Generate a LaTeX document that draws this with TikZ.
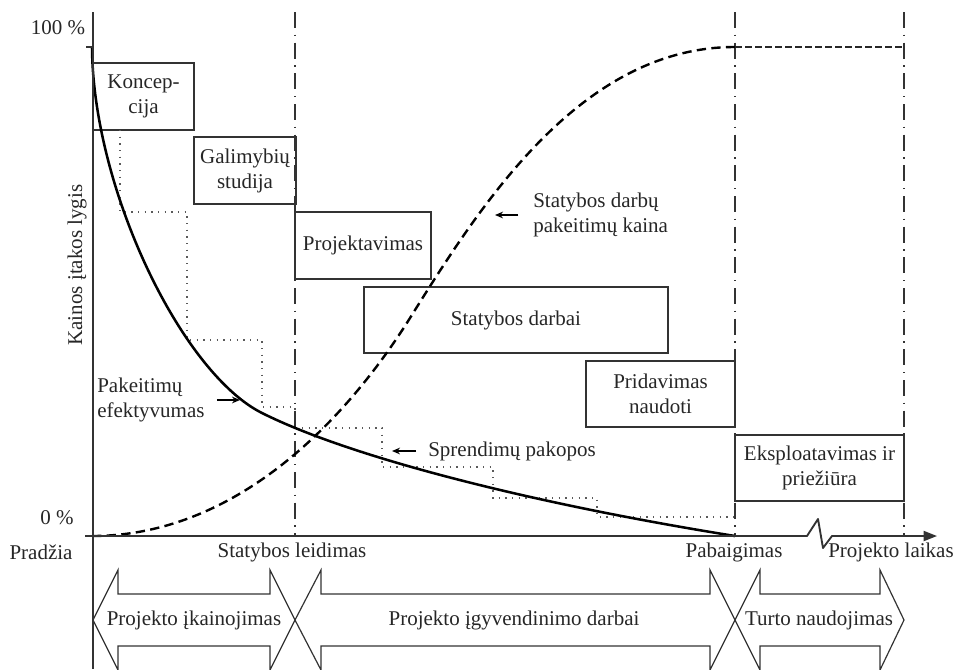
\documentclass[tikz,border=0pt]{standalone}
\usepackage{fontspec}
\setmainfont{Liberation Serif}
\usetikzlibrary{arrows.meta}
\begin{document}
\begin{tikzpicture}[x=0.75pt,y=-0.75pt,
  txt/.style={font=\fontsize{15.75}{18.75}\selectfont, text=black!85, inner sep=0pt, align=center},
  stage/.style={txt, draw=black!80, line width=1.3pt, minimum height=50pt},
  axisline/.style={line width=1.4pt, draw=black!80, line join=round},
  milestone/.style={line width=1.2pt, draw=black!80, dash pattern=on 12pt off 5pt on 1pt off 5pt},
  effect/.style={line width=1.9pt, draw=black},
  costcurve/.style={line width=1.8pt, draw=black, dash pattern=on 7pt off 4pt},
  costflat/.style={line width=1.3pt, draw=black!85, dash pattern=on 5pt off 2.5pt},
  stairs/.style={line width=1pt, draw=black!65, dash pattern=on 1pt off 4pt},
  phase/.style={line width=0.9pt, draw=black!80, line join=miter},
  pointer/.style={line width=1pt, draw=black, -{Stealth[length=6pt,width=5pt]}},
]
\useasboundingbox (0,0) rectangle (957,669);

% project stages
\node[stage, minimum width=75.75pt]  (koncep) at (143.5,96.5) {Koncep-\\cija};
\node[stage, minimum width=76.5pt]   (galim)  at (245,170.5)  {Galimybių\\studija};
\node[stage, minimum width=102pt]    (proj)   at (363,245.5)  {Projektavimas};
\node[stage, minimum width=228pt]    (statyb) at (516,320)    {Statybos darbai};
\node[stage, minimum width=111.75pt] (prid)   at (660.5,394)  {Pridavimas\\naudoti};
\node[stage, minimum width=126.75pt] (ekspl)  at (819.5,468)  {Eksploatavimas ir\\priežiūra};

% decision steps
\draw[stairs] (120,130) -- (120,212) -- (187,212) -- (187,340) -- (262,340) -- (262,407)
  -- (295,407) -- (295,428) -- (382,428) -- (382,467) -- (493,467) -- (493,498)
  -- (597,498) -- (597,517) -- (735,517);

% milestones
\draw[milestone] (295,12) -- (295,536);
\draw[milestone] (735,12) -- (735,536);
\draw[milestone] (904,12) -- (904,536);

% curves
\draw[effect] (92,47) .. controls (93,190) and (182,373) .. (262,413)
  .. controls (352,458) and (535,504) .. (735,536);
\draw[costcurve] (92,536) .. controls (250,536) and (360,398) .. (410,318)
  .. controls (480,206) and (580,47) .. (735,47);
\draw[costflat] (735,47) -- (904,47);

% axes
\coordinate (ytop) at (93,12);
\coordinate (ybot) at (93,669);
\coordinate (xstart) at (85,536);
\coordinate (xend) at (937,536);
\draw[axisline] (ytop) -- (ybot);
\draw[axisline] (86,47) -- (93,47);
\draw[axisline, -{Triangle[length=10pt,width=7.5pt]}] (xstart) -- (807,536) -- (818,519)
  -- (823,548) -- (832,536) -- (xend);

\node[txt] (l100)    at (58,28)   {100~\%};
\node[txt] (l0)      at (57,518)  {0~\%};
\node[txt] (pradzia) at (41,552)  {Pradžia};
\node[txt] (leid)    at (292,552) {Statybos leidimas};
\node[txt] (pabaig)  at (734,552) {Pabaigimas};
\node[txt] (laikas)  at (891,552) {Projekto laikas};
\node[txt, rotate=90] (ylab) at (77,265) {Kainos įtakos lygis};

% curve labels
\node[txt, align=left, anchor=west] (kaina) at (533,215) {Statybos darbų\\pakeitimų kaina};
\node[txt, align=left, anchor=west] (efekt) at (97,400)  {Pakeitimų\\efektyvumas};
\node[txt, anchor=west]             (pakop) at (428,451) {Sprendimų pakopos};
\coordinate (kainaTip) at (495,215);
\coordinate (efektTip) at (240,400);
\coordinate (pakopTip) at (392,451);
\draw[pointer] ([xshift=-11pt]kaina.west) -- (kainaTip);
\draw[pointer] ([xshift=9pt]efekt.east) -- (efektTip);
\draw[pointer] ([xshift=-9pt]pakop.west) -- (pakopTip);

% project phases
\draw[phase] (93,620) -- (118,570) -- (118,594) -- (270,594) -- (270,570) -- (295,620)
  -- (270,670) -- (270,646) -- (118,646) -- (118,670) -- cycle;
\draw[phase] (295,620) -- (321,570) -- (321,594) -- (710,594) -- (710,570) -- (735,620)
  -- (710,670) -- (710,646) -- (321,646) -- (321,670) -- cycle;
\draw[phase] (735,620) -- (760,570) -- (760,594) -- (880,594) -- (880,570) -- (904,620)
  -- (880,670) -- (880,646) -- (760,646) -- (760,670) -- cycle;
\node[txt] (ph1) at (194,620) {Projekto įkainojimas};
\node[txt] (ph2) at (514,620) {Projekto įgyvendinimo darbai};
\node[txt] (ph3) at (819,620) {Turto naudojimas};
\end{tikzpicture}
\end{document}
